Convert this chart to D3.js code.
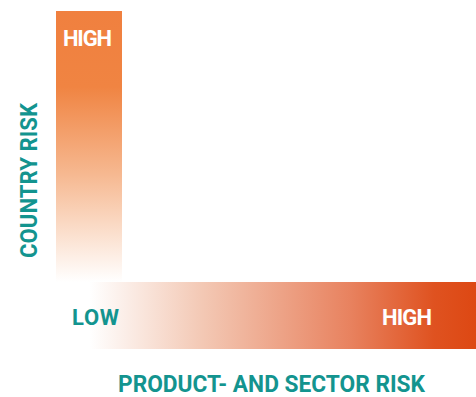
<!DOCTYPE html>
<html><head><meta charset="utf-8">
<script src="https://cdn.jsdelivr.net/npm/d3@7"></script>
<style>body{margin:0;background:#fff}svg{display:block}</style>
</head><body>
<script>
const yAxisTitle = "COUNTRY RISK";
const xAxisTitle = "PRODUCT- AND SECTOR RISK";
const xLevels = ["LOW", "HIGH"];
const yLevels = ["HIGH"];
const levelValues = [0, 1];
const vStops = [[0, "#F0803F"], [0.28, "#F08442"], [0.6, "#F6B890"], [1, "#FFFFFF"]];
const hStops = [[0, "#FFFFFF"], [0.08, "#FFFFFF"], [0.35, "#F3C8B4"], [0.7, "#E8825F"], [0.9, "#DF5220"], [1, "#DD4813"]];

const W = 476, H = 397;
const svg = d3.select("body").append("svg").attr("width", W).attr("height", H);
const defs = svg.append("defs");
const x = d3.scaleLinear().domain([0, 1]).range([56, 476]);
const y = d3.scaleLinear().domain([0, 1]).range([282, 11]);
const teal = "#13948F";
const font = "Roboto, 'Noto Sans', sans-serif";

const vg = defs.append("linearGradient").attr("id", "vg").attr("x1", 0).attr("y1", 0).attr("x2", 0).attr("y2", 1);
vg.selectAll("stop").data(vStops).join("stop").attr("offset", d => d[0]).attr("stop-color", d => d[1]);
const hg = defs.append("linearGradient").attr("id", "hg").attr("x1", 0).attr("y1", 0).attr("x2", 1).attr("y2", 0);
hg.selectAll("stop").data(hStops).join("stop").attr("offset", d => d[0]).attr("stop-color", d => d[1]);

// vertical bar (country risk)
svg.append("rect").attr("x", x(0)).attr("y", y(1)).attr("width", 66).attr("height", y(0) - y(1)).attr("fill", "url(#vg)");
// horizontal bar (product/sector risk)
svg.append("rect").attr("x", x(0)).attr("y", y(0)).attr("width", x(1) - x(0)).attr("height", 67).attr("fill", "url(#hg)");

// level labels
svg.append("text").attr("x", 87.5).attr("y", 46).attr("text-anchor", "middle")
  .attr("font-family", font).attr("font-weight", 700).attr("font-size", 22).attr("fill", "#fff")
  .attr("textLength", 49).text(yLevels[0]);
svg.selectAll(".xl").data(xLevels).join("text")
  .attr("x", (d, i) => i === 0 ? 72 : 432)
  .attr("y", 325)
  .attr("text-anchor", (d, i) => i === 0 ? "start" : "end")
  .attr("font-family", font).attr("font-weight", 700).attr("font-size", 22)
  .attr("fill", (d, i) => i === 0 ? teal : "#fff")
  .attr("textLength", (d, i) => i === 0 ? 47 : 50)
  .text(d => d);

// axis titles
svg.append("text").attr("transform", "translate(37,180.5) rotate(-90)").attr("text-anchor", "middle")
  .attr("font-family", font).attr("font-weight", 700).attr("font-size", 23).attr("fill", teal)
  .attr("textLength", 155).attr("lengthAdjust", "spacingAndGlyphs").text(yAxisTitle);
svg.append("text").attr("x", 271.5).attr("y", 392).attr("text-anchor", "middle")
  .attr("font-family", font).attr("font-weight", 700).attr("font-size", 23).attr("fill", teal)
  .attr("textLength", 307).attr("lengthAdjust", "spacingAndGlyphs").text(xAxisTitle);
</script>
</body></html>
